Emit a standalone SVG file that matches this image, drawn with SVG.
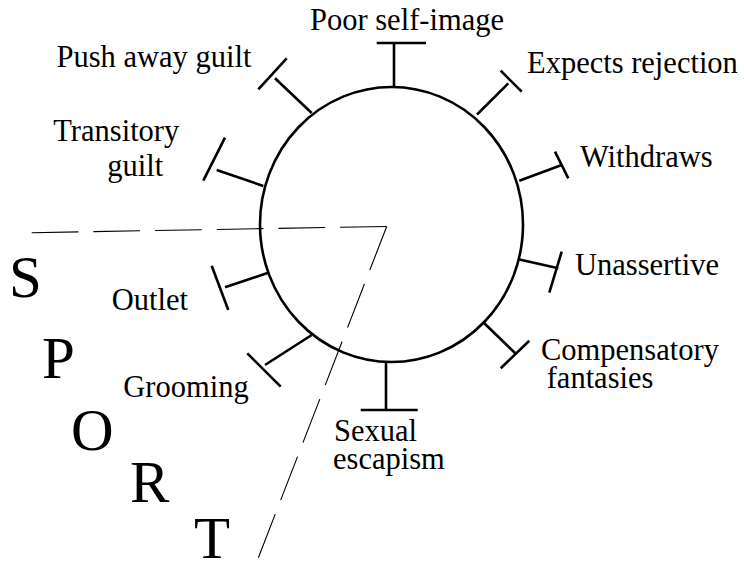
<svg xmlns="http://www.w3.org/2000/svg" width="744" height="565" viewBox="0 0 744 565">
<style>
.lbl{font-size:30.5px}
.big{font-size:59px}
.c{fill:none;stroke:#000;stroke-width:2.6}
.s{fill:none;stroke:#000;stroke-width:2.6;stroke-linecap:butt}
.d{fill:none;stroke:#000;stroke-width:1.1;stroke-dasharray:46.7 15}
</style>
<rect width="744" height="565" fill="#fff"/>
<g id="guides">
<line class="d" x1="31.7" y1="232.7" x2="386.7" y2="226.5"/>
<line class="d" x1="386.7" y1="226.5" x2="256.7" y2="562"/>
</g>
<g id="hub"><ellipse class="c" cx="391.5" cy="224.5" rx="131.5" ry="137.5"/></g>
<g id="connectors">
<line class="s" x1="394" y1="88" x2="394" y2="43"/><line class="s" x1="376.7" y1="43" x2="426" y2="43"/>
<line class="s" x1="311.7" y1="113" x2="275" y2="78.3"/><line class="s" x1="258.3" y1="89.3" x2="286.7" y2="58.3"/>
<line class="s" x1="477" y1="114.5" x2="508.3" y2="83.3"/><line class="s" x1="500.7" y1="70.7" x2="521.7" y2="91.7"/>
<line class="s" x1="519.3" y1="180.7" x2="561.7" y2="165"/><line class="s" x1="555" y1="151.7" x2="568.3" y2="178.3"/>
<line class="s" x1="518.3" y1="259.3" x2="558.3" y2="268.3"/><line class="s" x1="561.7" y1="251.7" x2="549.3" y2="292.7"/>
<line class="s" x1="482.7" y1="321.7" x2="516" y2="354"/><line class="s" x1="529.3" y1="340.7" x2="500.7" y2="368.3"/>
<line class="s" x1="386" y1="361" x2="386" y2="410"/><line class="s" x1="360.7" y1="410" x2="417.7" y2="410"/>
<line class="s" x1="311.7" y1="335" x2="265" y2="365"/><line class="s" x1="247.3" y1="353.3" x2="280.7" y2="386.7"/>
<line class="s" x1="268.3" y1="272.7" x2="225" y2="287.3"/><line class="s" x1="211.7" y1="265.7" x2="228.3" y2="310"/>
<line class="s" x1="263.3" y1="186" x2="216.7" y2="170"/><line class="s" x1="225" y1="137.7" x2="203.3" y2="180.7"/>
</g>
<g font-family="'Liberation Serif', 'Times New Roman', 'DejaVu Serif', serif" fill="#000">
<g id="n-poor"><text class="lbl" x="310" y="29.5">Poor self-image</text></g>
<g id="n-push"><text class="lbl" x="56.5" y="66.7">Push away guilt</text></g>
<g id="n-expects"><text class="lbl" x="527" y="73.3">Expects rejection</text></g>
<g id="n-withdraws"><text class="lbl" x="580" y="166.7">Withdraws</text></g>
<g id="n-transitory"><text class="lbl" x="53.3" y="141">Transitory<tspan x="107.3" dy="34.5">guilt</tspan></text></g>
<g id="n-unassertive"><text class="lbl" x="575" y="275">Unassertive</text></g>
<g id="n-outlet"><text class="lbl" x="111.7" y="310">Outlet</text></g>
<g id="n-compensatory"><text class="lbl" x="541" y="360">Compensatory<tspan x="546.7" dy="28.3">fantasies</tspan></text></g>
<g id="n-grooming"><text class="lbl" x="123.3" y="396.7">Grooming</text></g>
<g id="n-sexual"><text class="lbl" x="334" y="441">Sexual<tspan x="333" dy="27.5">escapism</tspan></text></g>
<g id="sport">
<text class="big" x="9" y="297">S</text>
<text class="big" x="42" y="378.3">P</text>
<text class="big" x="71" y="450">O</text>
<text class="big" x="130" y="501.7">R</text>
<text class="big" x="194" y="558">T</text>
</g>
</g>
</svg>
